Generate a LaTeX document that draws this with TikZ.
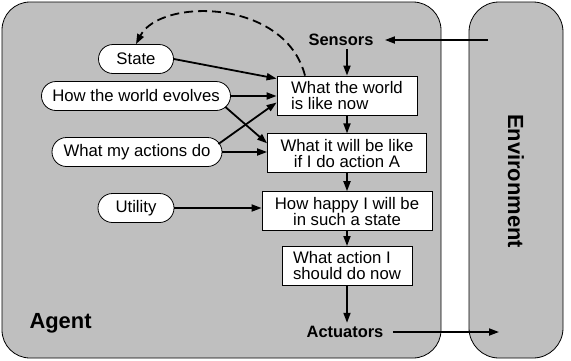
\documentclass[tikz,border=0pt]{standalone}
\usepackage{fontspec}
\setmainfont{Liberation Sans}
\usetikzlibrary{arrows.meta,positioning}

\begin{document}
\begin{tikzpicture}[x=1bp, y=-1bp,
                    node distance = 18bp,
                    font = \fontsize{16.8}{16}\selectfont,
                    >={Triangle[length=10bp,width=7bp]}]
     \tikzset{shell/.style  = {draw, fill = black!25, line width = 0.8bp,
                               rounded corners = 28bp},
              pill/.style   = {draw, fill = white, line width = 0.8bp,
                               rounded corners = 14.5bp,
                               minimum height = 29bp, inner sep = 0pt},
              box/.style    = {draw, fill = white, line width = 0.8bp,
                               minimum height = 39bp, inner sep = 0pt},
              port/.style   = {font = \fontsize{16.5}{16}\selectfont\bfseries},
              title/.style  = {font = \fontsize{22}{22}\selectfont\bfseries},
              flow/.style   = {->, line width = 1.8bp}}
     \useasboundingbox (0,0) rectangle (571,360);
     % agent and environment
     \draw[shell] (2,2) rectangle (441,358);
     \draw[shell, rounded corners = 30bp] (469,2) rectangle (563,358);
     \node[title, anchor = west] (agent) at (26,323) {Agent};
     \node[title, rotate = -90] (env) at (516,181) {Environment};
     \node[port] (sensors) at (341,40) {Sensors};
     \node[port] (actuators) at (345,332) {Actuators};
     \coordinate (envin) at (488,40);
     \coordinate (envout) at (499,332);
     % the column of boxes
     \node[box, minimum width = 140bp, align = left] (now) at (347,95.5)
          {What the world\\is like now};
     \node[box, minimum width = 159bp, align = center, below = of now] (next)
          {What it will be like\\if I do action A};
     \node[box, minimum width = 170bp, align = center, below = of next] (happy)
          {How happy I will be\\in such a state};
     \node[box, minimum width = 130bp, align = left, below = 15bp of happy] (act)
          {What action I\\should do now};
     % knowledge on the left
     \node[pill, minimum width = 75bp]  (state)   at (136,59)  {State};
     \node[pill, minimum width = 189bp] (evolves) at (136,96)  {How the world evolves};
     \node[pill, minimum width = 170bp] (actions) at (137,152) {What my actions do};
     \node[pill, minimum width = 76bp]  (utility) at (136,208) {Utility};
     % connectors
     \draw[flow] (envin) -- ([xshift=8bp]sensors.east);
     \draw[flow] ([xshift=6bp]actuators.east) -- (envout);
     \draw[flow] (now.north |- sensors.south) -- (now);
     \draw[flow] (now) -- (next);
     \draw[flow] (next) -- (happy);
     \draw[flow] (happy) -- (act);
     \draw[flow] (act) -- (act |- actuators.north);
     \draw[flow] (state.east) -- ([yshift=-3bp]now.north west);
     \draw[flow] (evolves.east) -- (evolves.east -| now.west);
     \draw[flow] ([xshift=-5.5bp,yshift=-11bp]evolves.east) -- ([yshift=10bp]next.west);
     \draw[flow] ([xshift=-4bp,yshift=8bp]actions.east) -- ([yshift=-7bp]now.west);
     \draw[flow] (actions.east) -- (actions.east -| next.west);
     \draw[flow] (utility.east) -- (utility.east -| happy.west);
     \draw[flow, dash pattern = on 9bp off 5bp]
          ([xshift=-42bp]now.north) .. controls (285,-2) and (160,-2) .. (state.north);
\end{tikzpicture}
\end{document}
